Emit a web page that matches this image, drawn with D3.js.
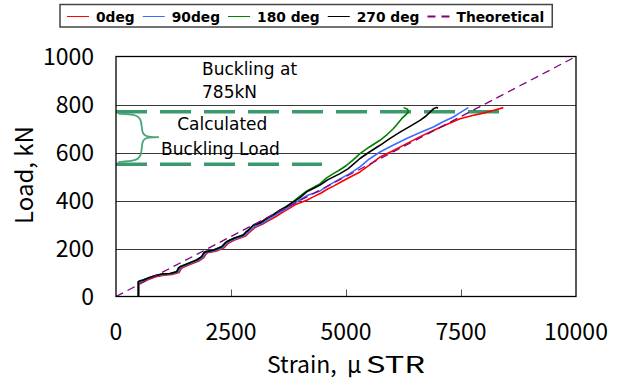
<!DOCTYPE html>
<html><head><meta charset="utf-8">
<script src="https://cdn.jsdelivr.net/npm/d3@7"></script>
<style>html,body{margin:0;padding:0;background:#fff;}</style>
</head><body>
<svg id="c" width="629" height="381"></svg>
<script>
const xTicks = [0, 2500, 5000, 7500, 10000];
const yTicks = [0, 200, 400, 600, 800, 1000];
const seriesNames = ["0deg", "90deg", "180 deg", "270 deg", "Theoretical"];
const seriesColors = ["#ff0000", "#3d6bff", "#008000", "#000000", "#800080"];

const deg0 = [[495,0],[495,55],[640,66],[790,77],[900,84],[1040,89],[1220,92],[1370,100],[1410,114],[1440,120],[1620,134],[1800,148],[1910,162],[1950,176],[1990,182],[2170,189],[2350,203],[2410,216],[2460,224],[2610,238],[2820,252],[2880,264],[2930,272],[3040,290],[3180,301],[3320,316],[3470,332],[3610,350],[3760,366],[3900,383],[4020,392],[4145,401],[4300,416],[4450,430],[4600,448],[4750,462],[4870,475],[5050,494],[5304,519],[5500,546],[5739,581],[6000,605],[6319,637],[6600,665],[6898,692],[7200,718],[7478,741],[7750,754],[7985,764],[8200,775],[8420,787]];
const deg90 = [[490,0],[490,58],[620,68],[770,79],[880,86],[1020,91],[1200,94],[1350,102],[1390,116],[1420,122],[1600,136],[1780,150],[1890,164],[1930,178],[1970,184],[2150,191],[2330,205],[2390,218],[2440,226],[2590,240],[2800,254],[2860,266],[2910,274],[3020,292],[3160,304],[3300,320],[3450,337],[3590,354],[3740,370],[3880,388],[4020,405],[4170,422],[4300,430],[4435,440],[4650,466],[4870,490],[5080,512],[5304,540],[5500,572],[5739,602],[6000,628],[6319,658],[6600,682],[6898,706],[7100,727],[7333,748],[7500,768],[7659,787]];
const deg180 = [[485,0],[485,60],[600,70],[750,80],[860,87],[1000,93],[1180,96],[1320,104],[1360,119],[1390,124],[1580,139],[1760,153],[1870,167],[1905,181],[1940,187],[2120,194],[2300,208],[2360,221],[2410,229],[2560,243],[2770,257],[2830,269],[2880,277],[2990,298],[3130,307],[3280,326],[3420,342],[3570,361],[3710,376],[3860,396],[4000,418],[4150,440],[4300,455],[4440,470],[4580,494],[4725,512],[4870,528],[5015,547],[5150,568],[5304,595],[5500,622],[5739,651],[5900,676],[6028,699],[6120,720],[6210,741],[6290,756],[6355,768],[6340,780],[6250,787]];
const deg270 = [[485,0],[485,62],[520,66],[594,69],[740,80],[880,88],[993,94],[1174,96],[1319,103],[1360,118],[1391,124],[1572,138],[1754,152],[1862,166],[1900,180],[1935,186],[2115,193],[2297,207],[2360,220],[2406,228],[2550,242],[2767,256],[2820,268],[2876,276],[2986,297],[3130,306],[3275,325],[3420,340],[3565,360],[3700,373],[3855,394],[4000,412],[4145,436],[4300,451],[4435,464],[4600,486],[4870,512],[5050,533],[5304,575],[5500,601],[5739,630],[5950,658],[6174,685],[6400,710],[6609,734],[6740,752],[6826,768],[6900,782],[6971,788],[7000,784]];
const theoretical = [[0,0],[10000,1000]];
const calcBuckling = [770, 551];
const calcBucklingEnd = [8350, 4480];
const brace = [[50,762],[413,759],[559,741],[559,679],[667,664],[1065,664],[667,664],[559,651],[559,581],[413,565],[50,560]];

const svg = d3.select("#c");
const x = d3.scaleLinear().domain([0,10000]).range([116,576]);
const y = d3.scaleLinear().domain([0,1000]).range([296.5,56.5]);
const tickFont = "'Noto Sans CJK JP', 'Noto Sans', sans-serif";

// gridlines
svg.append("g").selectAll("line").data(yTicks.filter(d=>d>0 && d<1000)).join("line")
  .attr("x1", x(0)).attr("x2", x(10000))
  .attr("y1", d=>Math.round(y(d))+0.5).attr("y2", d=>Math.round(y(d))+0.5)
  .attr("stroke", "#3a3a3a").attr("stroke-width", 1);

// inner x ticks
svg.append("g").selectAll("line").data(xTicks.filter(d=>d>0 && d<10000)).join("line")
  .attr("x1", d=>Math.round(x(d))+0.5).attr("x2", d=>Math.round(x(d))+0.5)
  .attr("y1", y(0)).attr("y2", y(0)-7)
  .attr("stroke", "#555").attr("stroke-width", 1);

// calculated buckling dashed lines
svg.append("g").selectAll("line").data(calcBuckling).join("line")
  .attr("x1", x(0)).attr("x2", (d,i)=>x(calcBucklingEnd[i]))
  .attr("y1", d=>y(d)).attr("y2", d=>y(d))
  .attr("stroke", "#3b9a6c").attr("stroke-width", 3.5)
  .attr("stroke-dasharray", "31,13");

// brace
svg.append("path").datum(brace)
  .attr("d", d3.line().x(d=>x(d[0])).y(d=>y(d[1])).curve(d3.curveBasis))
  .attr("fill", "none").attr("stroke", "#4aa57a").attr("stroke-width", 1.8);

// data lines
const line = d3.line().x(d=>x(d[0])).y(d=>y(d[1]));
const all = [deg0, deg90, deg180, deg270];
all.forEach((s,i)=>{
  svg.append("path").datum(s).attr("d", line)
    .attr("fill","none").attr("stroke", seriesColors[i]).attr("stroke-width", 1.6)
    .attr("stroke-linejoin","round");
});
svg.append("path").datum(theoretical).attr("d", line)
  .attr("fill","none").attr("stroke", seriesColors[4]).attr("stroke-width", 1.3)
  .attr("stroke-dasharray", "8,5");

// plot border
svg.append("rect").attr("x", x(0)).attr("y", y(1000)).attr("width", x(10000)-x(0)).attr("height", y(0)-y(1000))
  .attr("fill","none").attr("stroke","#000").attr("stroke-width",1.3);

// tick labels
svg.append("g").selectAll("text").data(yTicks).join("text")
  .attr("x", 94).attr("y", d=>y(d)).attr("dy","0.36em")
  .attr("text-anchor","end").attr("font-family", tickFont).attr("font-size", 23)
  .text(d=>d);
svg.append("g").selectAll("text").data(xTicks).join("text")
  .attr("x", d=>x(d)).attr("y", 340)
  .attr("text-anchor","middle").attr("font-family", tickFont).attr("font-size", 23)
  .text(d=>d);

// axis titles
const xt = svg.append("text").attr("y", 373)
  .attr("font-family", tickFont).attr("font-size", 23);
xt.append("tspan").attr("x", 267).text("Strain, ");
xt.append("tspan").attr("x", 347).text("μ");
xt.append("tspan").attr("x", 366).attr("textLength", 59).attr("lengthAdjust","spacingAndGlyphs").text("STR");
svg.append("text").attr("transform", "translate(33,175) rotate(-90)").attr("text-anchor","middle")
  .attr("font-family", tickFont).attr("font-size", 24).text("Load, kN");

// annotations
const annFont = "'DejaVu Sans', Verdana, sans-serif";
const ann = [["Buckling at", 1870, 923], ["785kN", 1870, 828], ["Calculated", 1330, 695], ["Buckling Load", 980, 590]];
svg.append("g").selectAll("text").data(ann).join("text")
  .attr("x", d=>x(d[1])).attr("y", d=>y(d[2]))
  .attr("font-family", annFont).attr("font-size", 17).attr("fill","#000")
  .text(d=>d[0]);

// legend
const lg = svg.append("g");
const box = lg.append("rect").attr("y", 4.5).attr("height", 22.5).attr("fill","#fff")
  .attr("stroke","#444").attr("stroke-width",1.5);
let cx = 67;
seriesNames.forEach((n,i)=>{
  lg.append("line").attr("x1", cx).attr("x2", cx+22).attr("y1", 16.5).attr("y2", 16.5)
    .attr("stroke", seriesColors[i]).attr("stroke-width", i===4?2:1)
    .attr("stroke-dasharray", i===4 ? "8,6" : null);
  const t = lg.append("text").attr("x", cx+29).attr("y", 22)
    .attr("font-family", "'DejaVu Sans', sans-serif").attr("font-weight","bold").attr("font-size", 13.8)
    .text(n);
  cx = cx + 29 + t.node().getComputedTextLength() + 8;
});
box.attr("x", 60).attr("width", cx - 60);
</script>
</body></html>
